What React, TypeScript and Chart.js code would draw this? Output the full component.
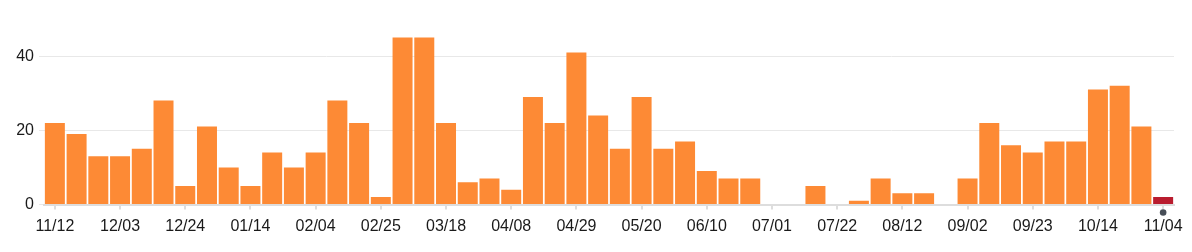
import React, { useEffect, useRef } from "react";
import { Chart, registerables } from "chart.js";

Chart.register(...registerables);

const weeks: string[] = [
  "11/12", "11/19", "11/26", "12/03", "12/10", "12/17", "12/24", "12/31",
  "01/07", "01/14", "01/21", "01/28", "02/04", "02/11", "02/18", "02/25",
  "03/04", "03/11", "03/18", "03/25", "04/01", "04/08", "04/15", "04/22",
  "04/29", "05/06", "05/13", "05/20", "05/27", "06/03", "06/10", "06/17",
  "06/24", "07/01", "07/08", "07/15", "07/22", "07/29", "08/05", "08/12",
  "08/19", "08/26", "09/02", "09/09", "09/16", "09/23", "09/30", "10/07",
  "10/14", "10/21", "10/28", "11/04",
];

const counts: number[] = [
  22, 19, 13, 13, 15, 28, 5, 21, 10, 5, 14, 10, 14, 28, 22, 2, 45,
  45, 22, 6, 7, 4, 29, 22, 41, 24, 15, 29, 15, 17, 9, 7, 7,
  0, 0, 5, 0, 1, 7, 3, 3, 0, 7, 22, 16, 14, 17, 17, 31, 32, 21, 2,
];

const yTickValues: number[] = [0, 20, 40];
const labelEvery = 3;

const ORANGE = "#fd8a35";
const RED = "#b91c2e";

const currentMarker = {
  id: "currentMarker",
  afterDraw(chart: any) {
    const x = chart.scales.x;
    const px = x.getPixelForValue(weeks.length - 1);
    const py = x.top + 8;
    const ctx = chart.ctx;
    ctx.save();
    ctx.beginPath();
    ctx.arc(px, py, 3.3, 0, Math.PI * 2);
    ctx.fillStyle = "#474e57";
    ctx.fill();
    ctx.restore();
  },
};

export default function App() {
  const ref = useRef<HTMLCanvasElement | null>(null);
  useEffect(() => {
    if (!ref.current) return;
    Chart.defaults.font.family = "'Liberation Sans', Arial, Helvetica, sans-serif";
    Chart.defaults.font.size = 16;
    Chart.defaults.color = "#1a1a1a";
    const chart = new Chart(ref.current, {
      type: "bar",
      data: {
        labels: weeks,
        datasets: [
          {
            data: counts,
            backgroundColor: counts.map((_, i) => (i === counts.length - 1 ? RED : ORANGE)),
            barPercentage: 0.92,
            categoryPercentage: 1,
          },
        ],
      },
      plugins: [currentMarker],
      options: {
        animation: false,
        responsive: true,
        maintainAspectRatio: false,
        layout: { padding: { top: 19, right: 18, left: 0, bottom: 0 } },
        plugins: { legend: { display: false }, tooltip: { enabled: false } },
        scales: {
          x: {
            type: "category",
            afterBuildTicks: (scale: any) => {
              scale.ticks = scale.ticks.filter((t: any) => t.value % labelEvery === 0);
            },
            afterFit: (scale: any) => {
              scale.height = 47.5;
            },
            ticks: { autoSkip: false, maxRotation: 0, padding: 7 },
            grid: {
              offset: false,
              drawOnChartArea: false,
              drawTicks: true,
              tickLength: 5,
              color: "#dddddd",
              lineWidth: 2,
            },
            border: { display: true, color: "#dddddd", width: 2 },
          },
          y: {
            min: 0,
            max: 50,
            afterBuildTicks: (scale: any) => {
              scale.ticks = yTickValues.map((v) => ({ value: v }));
            },
            afterFit: (scale: any) => {
              scale.width = 44;
            },
            ticks: { padding: 5 },
            grid: { color: "#e8e8e8", lineWidth: 1, tickLength: 5 },
            border: { display: false },
          },
        },
      },
    });
    return () => chart.destroy();
  }, []);
  return (
    <div style={{ position: "fixed", left: 0, top: 0, width: 1192, height: 252 }}>
      <canvas ref={ref} />
    </div>
  );
}
